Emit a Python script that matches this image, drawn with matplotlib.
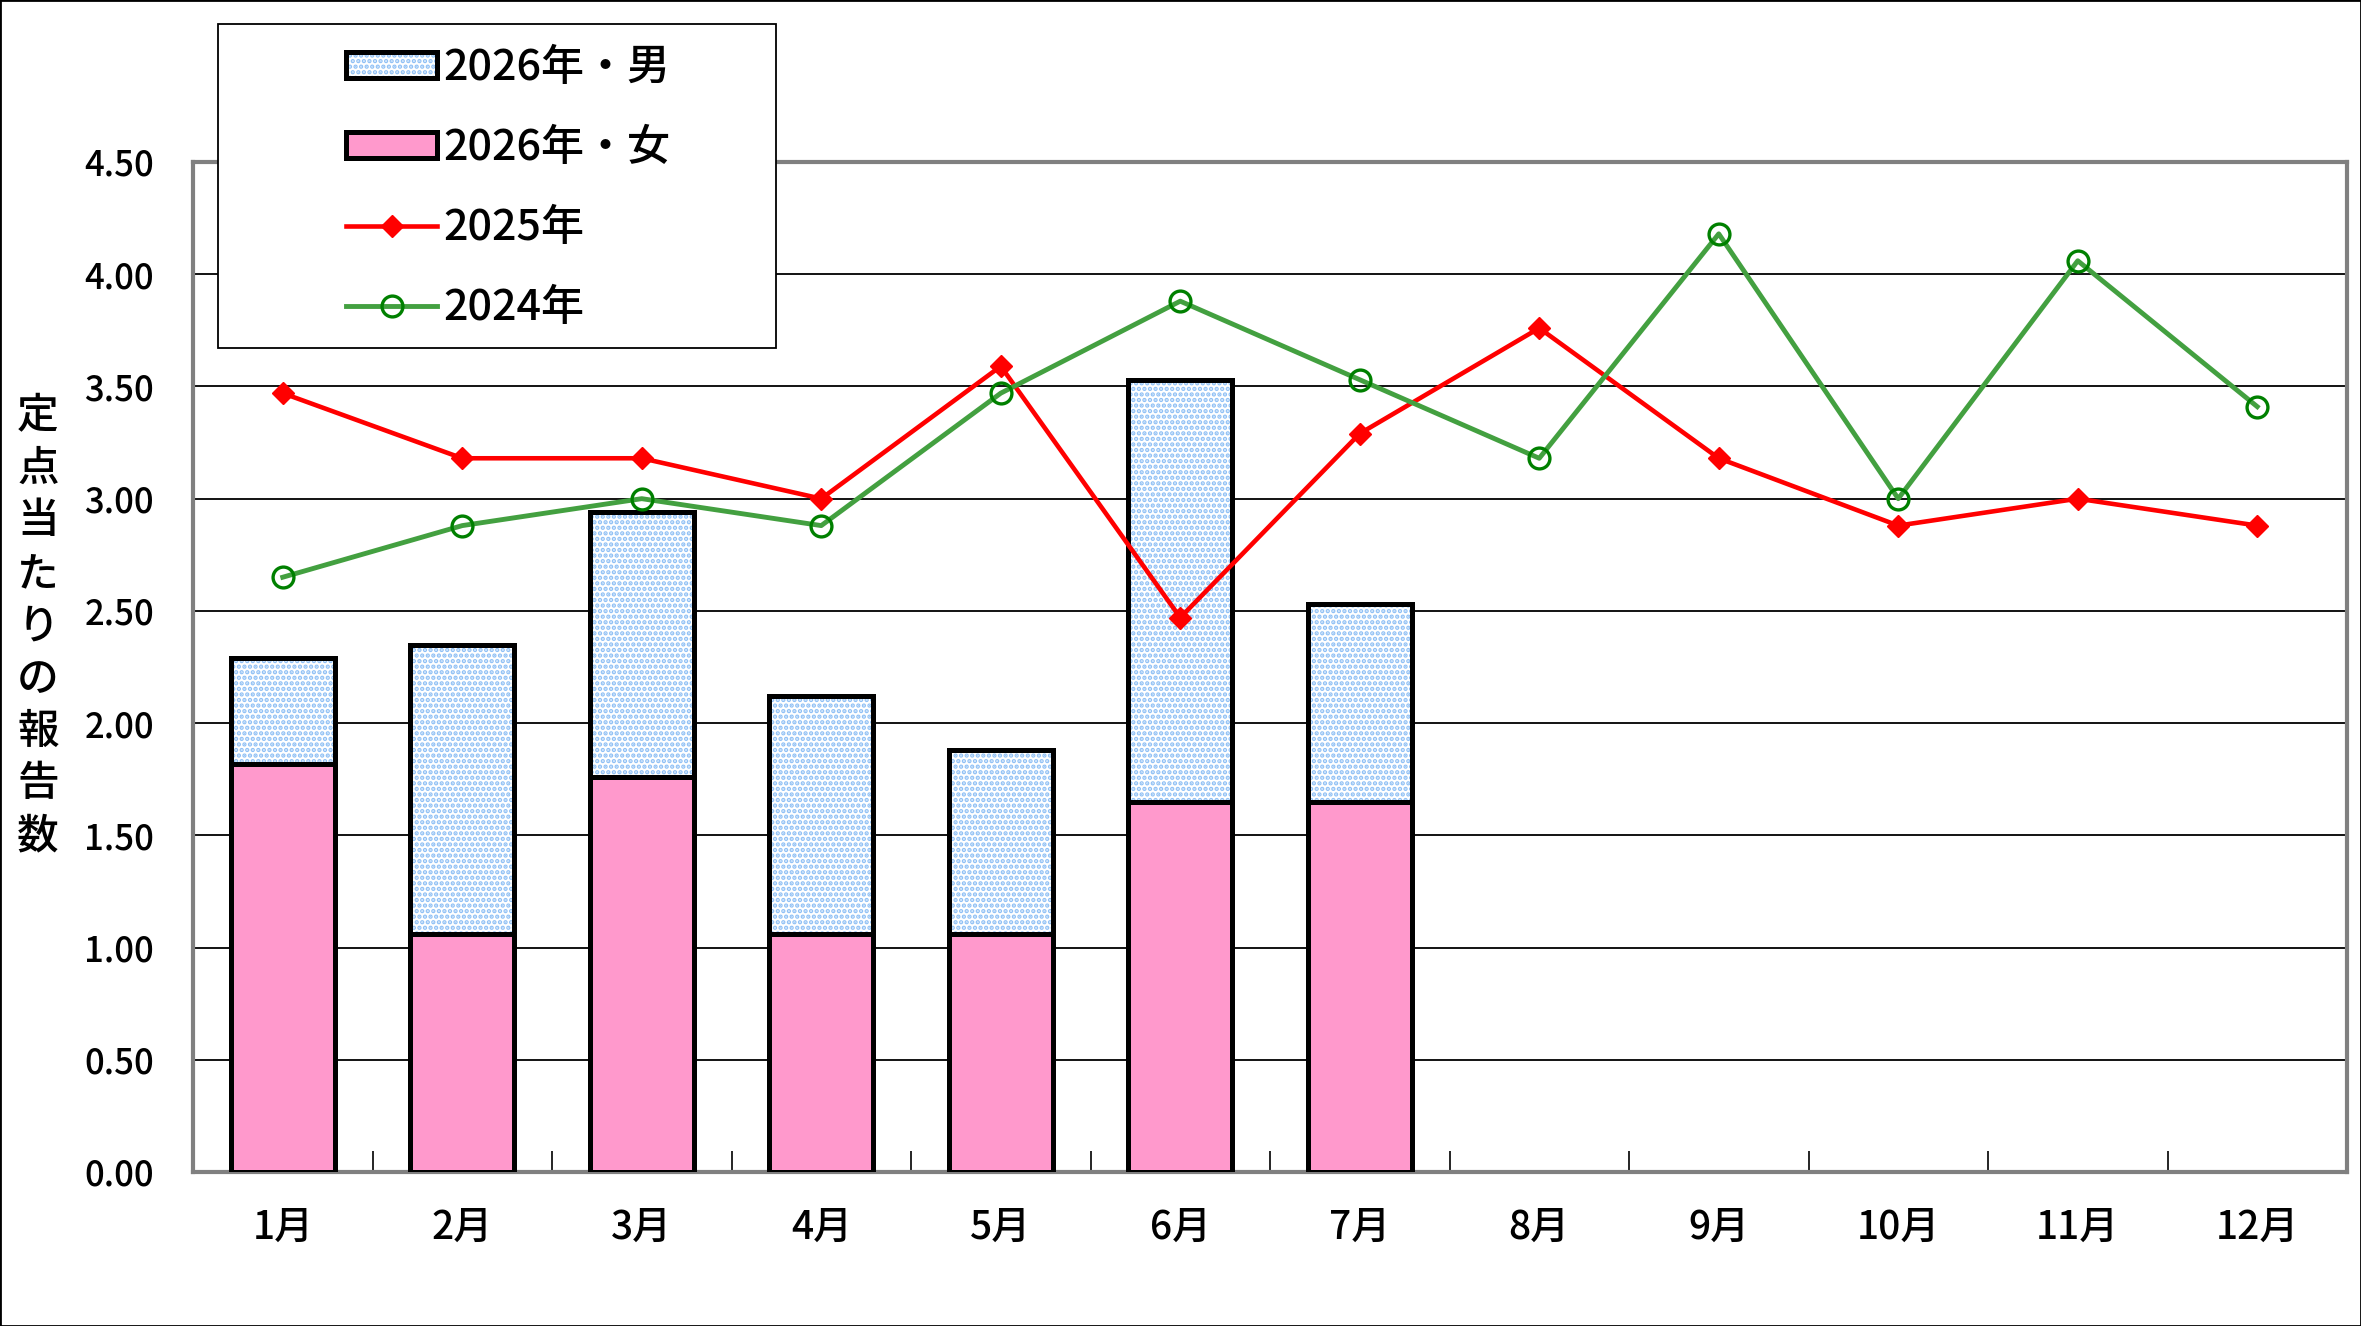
import matplotlib
matplotlib.use("Agg")
import matplotlib.pyplot as plt
import numpy as np
from matplotlib.lines import Line2D
from matplotlib.patches import Patch, Rectangle

plt.rcParams['font.family'] = ['Noto Sans CJK JP', 'DejaVu Sans']
plt.rcParams['hatch.linewidth'] = 2.2

months = ["1月", "2月", "3月", "4月", "5月", "6月", "7月", "8月", "9月", "10月", "11月", "12月"]
female_2026 = [1.82, 1.06, 1.76, 1.06, 1.06, 1.65, 1.65]
male_2026 = [0.47, 1.29, 1.18, 1.06, 0.82, 1.88, 0.88]
y2025 = [3.47, 3.18, 3.18, 3.00, 3.59, 2.47, 3.29, 3.76, 3.18, 2.88, 3.00, 2.88]
y2024 = [2.65, 2.88, 3.00, 2.88, 3.47, 3.88, 3.53, 3.18, 4.18, 3.00, 4.06, 3.41]
yticks = [0.0, 0.5, 1.0, 1.5, 2.0, 2.5, 3.0, 3.5, 4.0, 4.5]

W, H = 2361, 1326
fig = plt.figure(figsize=(W / 100, H / 100), dpi=100)
ax = fig.add_axes([193 / W, 154 / H, (2347 - 193) / W, (1172 - 162) / H])

x = np.arange(len(months))
xb = x[:len(female_2026)]
w = 0.58
pink = "#ff99cc"
dot_blue = "#8fc0f5"
bar_lw = 3.6

ax.bar(xb, female_2026, width=w, color=pink, edgecolor="black", linewidth=bar_lw, zorder=3)
ax.bar(xb, male_2026, width=w, bottom=female_2026, color="white", edgecolor=dot_blue,
       hatch="...", linewidth=0, zorder=3)
ax.bar(xb, male_2026, width=w, bottom=female_2026, fill=False, edgecolor="black",
       linewidth=bar_lw, zorder=3)

red_style = dict(color="#ff0000", linewidth=3.3, marker="D", markersize=11,
                 markerfacecolor="#ff0000", markeredgecolor="#ff0000")
green_style = dict(color="#43a040", linewidth=3.5, marker="o", markersize=15,
                   markerfacecolor="none", markeredgecolor="#008000", markeredgewidth=2.4)
ax.plot(x, y2025, zorder=4, **red_style)
ax.plot(x, y2024, zorder=4, **green_style)

ax.set_xlim(-0.5, len(months) - 0.5)
ax.set_ylim(0, 4.5)
ax.set_yticks(yticks)
ax.set_yticklabels([f"{v:.2f}" for v in yticks], fontsize=25, fontweight="medium")
ax.tick_params(axis="y", length=0, pad=28)
ax.set_xticks(x)
ax.set_xticklabels(months, fontsize=28, fontweight="medium")
ax.tick_params(axis="x", length=0, pad=26)
ax.set_xticks(np.arange(len(months) - 1) + 0.5, minor=True)
ax.tick_params(axis="x", which="minor", direction="in", length=15, width=1.2, color="black")
ax.yaxis.grid(True, color="black", linewidth=1.3, zorder=0)
ax.set_axisbelow(True)
for s in ax.spines.values():
    s.set_color("#808080")
    s.set_linewidth(3)

fig.text(38 / W, 1 - 626 / H, "\n".join("定点当たりの報告数"), fontsize=30,
         fontweight="medium", ha="center", va="center", linespacing=1.28)

# legend box
box = Rectangle((218 / W, 1 - 348 / H), (776 - 218) / W, (348 - 24) / H,
                transform=fig.transFigure, facecolor="white", edgecolor="black",
                linewidth=1.3, zorder=5)
fig.patches.append(box)

h_male = (Patch(facecolor="white", edgecolor=dot_blue, hatch="...", linewidth=0),
          Patch(fill=False, edgecolor="black", linewidth=bar_lw))
h_female = Patch(facecolor=pink, edgecolor="black", linewidth=bar_lw)
h_2025 = Line2D([], [], **red_style)
h_2024 = Line2D([], [], **green_style)
leg = fig.legend([h_male, h_female, h_2025, h_2024],
                 ["2026年・男", "2026年・女", "2025年", "2024年"],
                 loc="upper left", bbox_to_anchor=(346 / W, 1 - 46 / H),
                 prop=dict(size=31, weight="medium"), frameon=False,
                 handlelength=2.12, handleheight=0.55,
                 handletextpad=0.15, labelspacing=0.86, borderpad=0,
                 borderaxespad=0)
leg.set_zorder(6)

fig.patches.append(Rectangle((0, 0), 1, 1, transform=fig.transFigure, fill=False,
                             edgecolor="black", linewidth=2))

fig.savefig("out.png", dpi=100)
